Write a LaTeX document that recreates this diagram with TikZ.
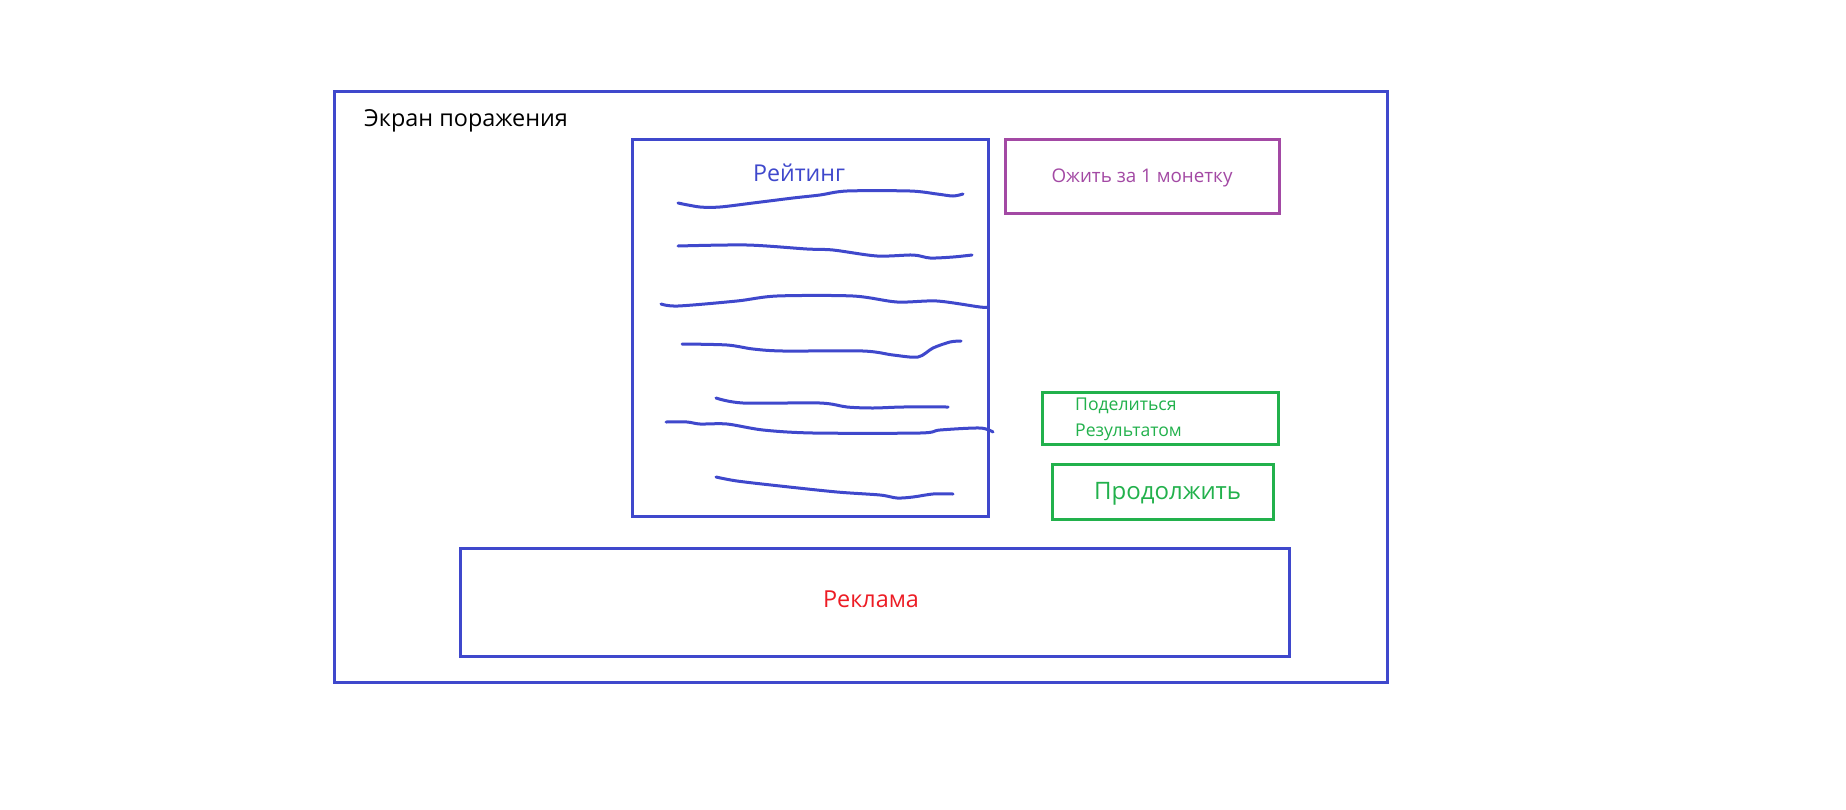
\documentclass[tikz,border=0pt]{standalone}
\usepackage{fontspec}
\setmainfont{Open Sans}
\definecolor{framblue}{RGB}{63,72,204}
\definecolor{btnpurple}{RGB}{163,73,164}
\definecolor{btngreen}{RGB}{34,177,76}
\definecolor{adred}{RGB}{237,28,36}
\usetikzlibrary{positioning}

\begin{document}
\begin{tikzpicture}[x=1pt, y=-1pt,
    frame/.style={line width=3pt},
    scribble/.style={draw=framblue, line width=3pt, line cap=round, line join=round},
    label/.style={inner sep=0pt, anchor=base west}]
    \useasboundingbox[fill=white] (0,0) rectangle (1846,809);
    % screen and its blocks
    \draw[frame, draw=framblue] (334,91) rectangle (1387,682);
    \draw[frame, draw=framblue] (632,139) rectangle (988,516);
    \draw[frame, draw=btnpurple] (1005,139) rectangle (1279,213);
    \draw[frame, draw=btngreen] (1042,392) rectangle (1278,444);
    \draw[frame, draw=btngreen] (1052,464) rectangle (1273,519);
    \draw[frame, draw=framblue] (460,548) rectangle (1289,656);
    % texts
    \node[label, font=\fontsize{23.4}{27}\selectfont] (title) at (364,126) {Экран поражения};
    \node[label, font=\fontsize{23.2}{27}\selectfont, text=framblue] (rating) at (753,181) {Рейтинг};
    \node[inner sep=0pt, anchor=base, font=\fontsize{18.8}{22}\selectfont, text=btnpurple] (revive) at (1142,182) {Ожить за 1 монетку};
    \node[label, font=\fontsize{17.6}{20}\selectfont, text=btngreen] (share) at (1075,410) {Поделиться};
    \node[label, font=\fontsize{17.6}{20}\selectfont, text=btngreen] (result) at (1075,436) {Результатом};
    \node[label, font=\fontsize{24}{28}\selectfont, text=btngreen] (continue) at (1094,499) {Продолжить};
    \node[inner sep=0pt, anchor=base, font=\fontsize{23.4}{27}\selectfont, text=adred] (ad) at (871,607) {Реклама};
    % rating rows, drawn by hand
    \draw[scribble] plot[smooth] coordinates {(678,203) (700,207) (720,207) (753,203) (793,198) (820,195) (847,191) (910,191) (937,194) (953,196) (963,194)};
    \draw[scribble] plot[smooth] coordinates {(678,246) (747,245) (807,249) (833,250) (877,256) (913,255) (930,258) (953,257) (972,255)};
    \draw[scribble] plot[smooth] coordinates {(661,304) (678,306) (737,301) (777,296) (853,296) (897,302) (937,301) (980,307) (988,307)};
    \draw[scribble] plot[smooth] coordinates {(682,344) (727,345) (753,349) (783,351) (863,351) (893,355) (918,357) (933,348) (950,342) (961,341)};
    \draw[scribble] plot[smooth] coordinates {(716,398) (743,403) (820,403) (847,407) (873,408) (903,407) (948,407)};
    \draw[scribble] plot[smooth] coordinates {(666,422) (687,422) (700,424) (727,424) (763,430) (813,433) (920,433) (940,430) (980,428) (993,432)};
    \draw[scribble] plot[smooth] coordinates {(716,477) (737,481) (780,486) (837,492) (880,495) (897,498) (913,497) (933,494) (953,494)};
\end{tikzpicture}
\end{document}
